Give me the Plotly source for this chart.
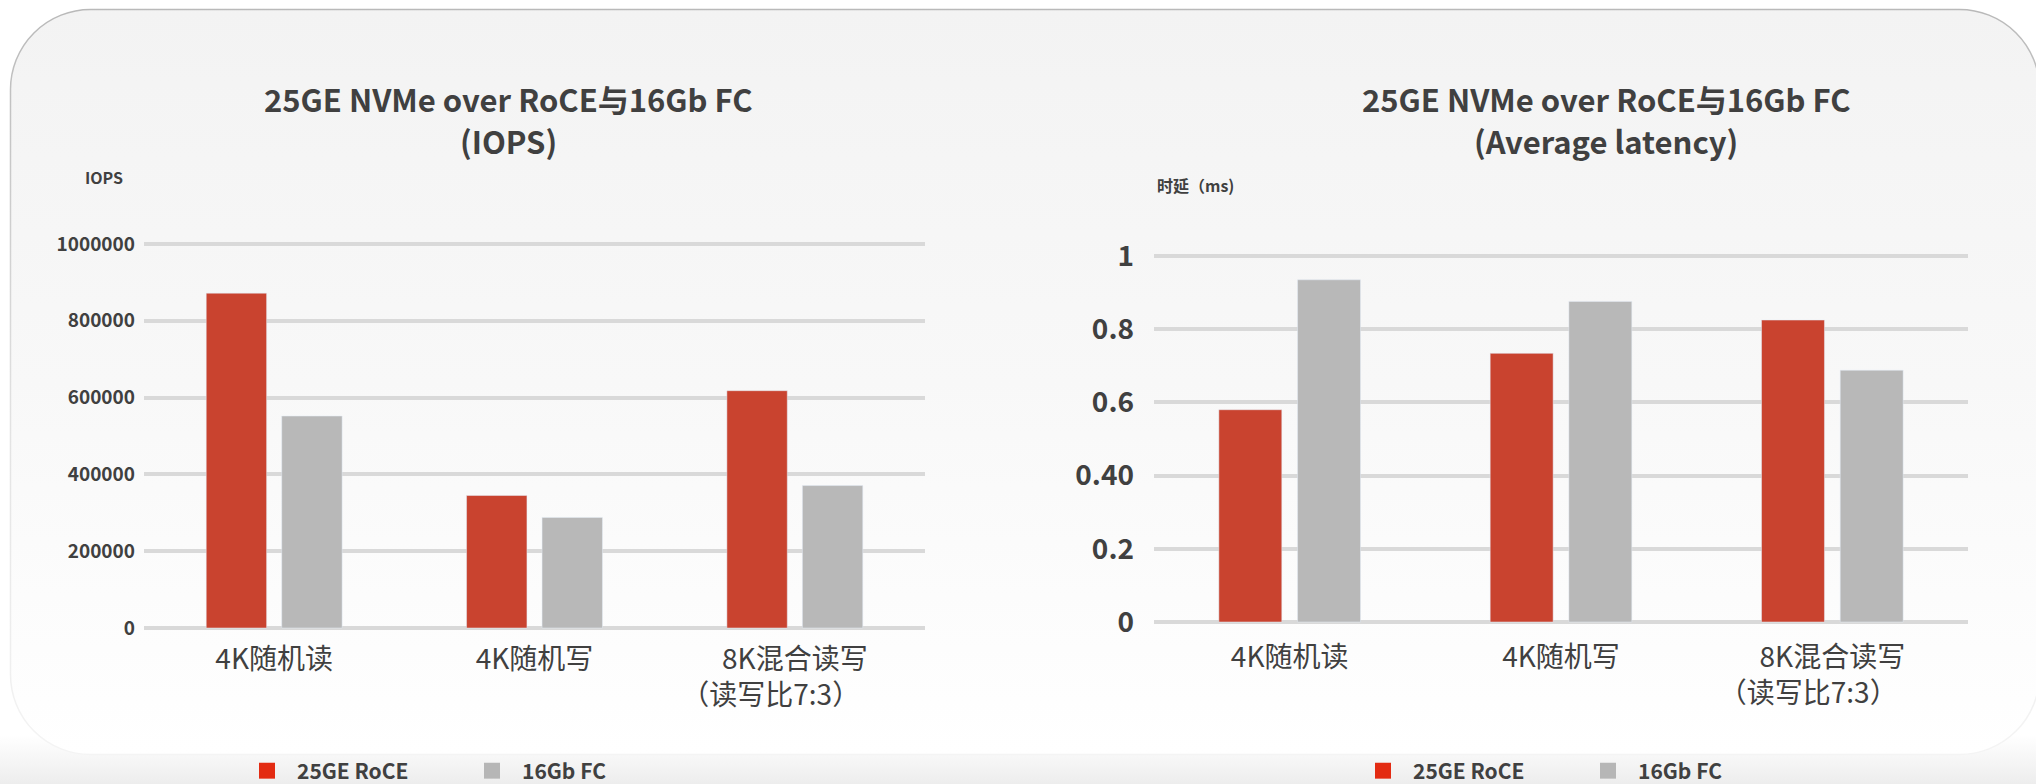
import base64
import plotly.graph_objects as go

# ---- data -------------------------------------------------------------
categories = ["4K随机读", "4K随机写", "8K混合读写<br>（读写比7:3）\u3000\u3000\u00a0"]
series_names = ["25GE RoCE", "16Gb FC"]

iops_roce = [872000, 345000, 618000]
iops_fc = [552000, 288000, 371000]

latency_roce = [0.58, 0.734, 0.825]
latency_fc = [0.935, 0.876, 0.688]

iops_ticks = [0, 200000, 400000, 600000, 800000, 1000000]
iops_ticktext = ["0", "200000", "400000", "600000", "800000", "1000000"]
latency_ticks = [0, 0.2, 0.4, 0.6, 0.8, 1]
latency_ticktext = ["0", "0.2", "0.40", "0.6", "0.8", "1"]

# ---- styling ------------------------------------------------------------
W, H = 2036, 784
FONT = "Noto Sans CJK SC"
TEXT = "#404040"
BAR_RED, BAR_GREY = "#C9432F", "#B8B8B8"
KEY_RED, KEY_GREY = "#E32B12", "#B6B6B6"


def fx(px):
    return px / W


def fy(py):
    return 1 - py / H


def y_layout(zero_px, top_px, top_val, dom_top, dom_bot):
    per_px = top_val / (zero_px - top_px)
    lo = -(dom_bot - zero_px) * per_px
    hi = top_val + (top_px - dom_top) * per_px
    return [fy(dom_bot), fy(dom_top)], [lo, hi]


# rounded card behind both panels, with a soft vertical gradient
svg = f"""<svg xmlns='http://www.w3.org/2000/svg' width='{W}' height='{H}' viewBox='0 0 {W} {H}'>
<defs>
<linearGradient id='card' x1='0' y1='0' x2='0' y2='1'>
<stop offset='0' stop-color='#F3F3F3'/><stop offset='0.5' stop-color='#F8F8F8'/><stop offset='1' stop-color='#FFFFFF'/>
</linearGradient>
<linearGradient id='edge' x1='0' y1='0' x2='0' y2='1'>
<stop offset='0' stop-color='#B9B9B9'/><stop offset='0.55' stop-color='#E2E2E2'/><stop offset='1' stop-color='#F4F4F4'/>
</linearGradient>
<linearGradient id='floor' x1='0' y1='0' x2='0' y2='1'>
<stop offset='0' stop-color='#FFFFFF'/><stop offset='1' stop-color='#EDEDED'/>
</linearGradient>
</defs>
<rect x='0' y='0' width='{W}' height='{H}' fill='#FFFFFF'/>
<rect x='0' y='735' width='{W}' height='{H - 735}' fill='url(#floor)'/>
<rect x='10.5' y='9.5' width='2029' height='745' rx='80' ry='80' fill='url(#card)' stroke='url(#edge)' stroke-width='1.5'/>
</svg>"""
bg_src = "data:image/svg+xml;base64," + base64.b64encode(svg.encode("utf-8")).decode("ascii")

fig = go.Figure()

# left panel: IOPS
fig.add_trace(go.Bar(x=categories, y=iops_roce, name=series_names[0], marker_color=BAR_RED,
                     showlegend=False, xaxis="x", yaxis="y"))
fig.add_trace(go.Bar(x=categories, y=iops_fc, name=series_names[1], marker_color=BAR_GREY,
                     showlegend=False, xaxis="x", yaxis="y"))
# right panel: average latency
fig.add_trace(go.Bar(x=categories, y=latency_roce, name=series_names[0], marker_color=BAR_RED,
                     showlegend=False, xaxis="x2", yaxis="y2"))
fig.add_trace(go.Bar(x=categories, y=latency_fc, name=series_names[1], marker_color=BAR_GREY,
                     showlegend=False, xaxis="x2", yaxis="y2"))

# legend keys under each panel
for lg, xa, ya in (("legend", "x", "y"), ("legend2", "x2", "y2")):
    for name, col in zip(series_names, (KEY_RED, KEY_GREY)):
        fig.add_trace(go.Scatter(x=[None], y=[None], mode="markers", name=name,
                                 marker=dict(symbol="square", size=20, color=col),
                                 legend=lg, xaxis=xa, yaxis=ya, hoverinfo="skip"))

y1_dom, y1_rng = y_layout(628, 244, 1000000, 232, 640)
y2_dom, y2_rng = y_layout(622, 256, 1.0, 244, 634)

xcommon = dict(type="category", showgrid=False, showline=False, zeroline=False, ticks="",
               tickfont=dict(family=FONT, size=28, color=TEXT))
ycommon = dict(showgrid=True, gridcolor="#D9D9D9", gridwidth=4, showline=False, zeroline=False,
               ticks="")

legend_common = dict(orientation="h", yanchor="middle", xanchor="left", y=fy(771),
                     bgcolor="rgba(0,0,0,0)", borderwidth=0,
                     font=dict(family=FONT, size=21, color=TEXT, weight="bold"),
                     itemsizing="trace", itemclick=False, itemdoubleclick=False,
                     itemwidth=50, entrywidth=160)


def note(text, x_px, y_px, size, anchor="center"):
    return dict(text=text, x=fx(x_px), y=fy(y_px), xref="paper", yref="paper",
                xanchor=anchor, yanchor="middle", showarrow=False, borderpad=0,
                font=dict(family=FONT, size=size, color=TEXT, weight="bold"))


fig.update_layout(
    width=W, height=H,
    margin=dict(l=0, r=0, t=0, b=0, autoexpand=False),
    paper_bgcolor="#FFFFFF",
    plot_bgcolor="rgba(0,0,0,0)",
    barmode="group", bargap=0.42, bargroupgap=0.2,
    font=dict(family=FONT, color=TEXT),
    xaxis=dict(domain=[fx(144), fx(925)], anchor="y", **xcommon),
    yaxis=dict(domain=y1_dom, range=y1_rng, anchor="x", tickvals=iops_ticks, ticktext=iops_ticktext,
               tickfont=dict(family=FONT, size=19, color=TEXT, weight="bold"),
               ticklabelstandoff=8, **ycommon),
    xaxis2=dict(domain=[fx(1154), fx(1968)], anchor="y2", ticklabelstandoff=4, **xcommon),
    yaxis2=dict(domain=y2_dom, range=y2_rng, anchor="x2", tickvals=latency_ticks,
                ticktext=latency_ticktext,
                tickfont=dict(family=FONT, size=28, color=TEXT, weight="bold"),
                ticklabelstandoff=19, **ycommon),
    legend=dict(x=fx(237), **legend_common),
    legend2=dict(x=fx(1353), **legend_common),
    images=[dict(source=bg_src, xref="paper", yref="paper", x=0, y=1, sizex=1, sizey=1,
                 xanchor="left", yanchor="top", sizing="stretch", layer="below")],
    annotations=[
        note("25GE NVMe over RoCE与16Gb FC", 508, 99, 31),
        note("(IOPS)", 508, 140.5, 31),
        note("25GE NVMe over RoCE与16Gb FC", 1606, 99, 31),
        note("(Average latency)", 1606, 140.5, 31),
        note("IOPS", 104, 177, 16),
        note("时延（ms)", 1156, 185, 16, anchor="left"),
    ],
)

fig.write_html("out.html")
